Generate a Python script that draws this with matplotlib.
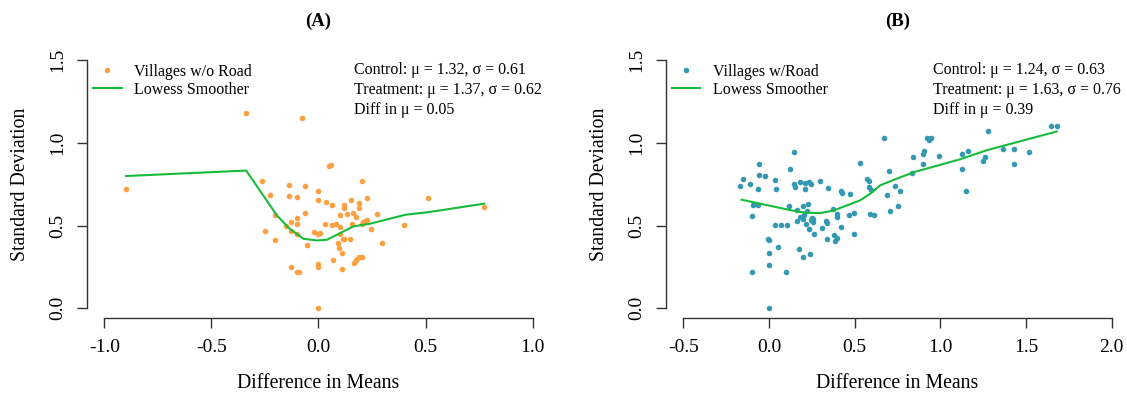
import matplotlib
matplotlib.use("Agg")
from matplotlib import pyplot as plt
from matplotlib.lines import Line2D

plt.rcParams['font.family'] = ['Liberation Serif', 'DejaVu Serif']

# panel A: villages without road
a_x = [-0.341, -0.079, 0.051, 0.059, -0.901, -0.266, -0.138, -0.064, 0.203, 0.000,
       -0.227, -0.138, -0.101, 0.000, 0.036, 0.064, 0.120, 0.150, 0.227, 0.189,
       0.189, 0.514, 0.774, -0.201, -0.064, -0.101, -0.127, -0.101, -0.154, -0.250,
       -0.201, -0.127, -0.101, -0.056, -0.019, 0.000, 0.008, 0.030, 0.064, 0.083,
       0.101, 0.120, 0.134, 0.163, 0.173, 0.101, 0.157, 0.203, 0.210, 0.219,
       0.227, 0.246, 0.273, 0.399, 0.101, 0.114, 0.120, 0.147, 0.089, 0.095,
       0.108, 0.299, 0.067, 0.173, 0.179, 0.191, 0.203, 0.168, 0.000, 0.000,
       -0.127, -0.101, -0.089, 0.112, 0.000]
a_y = [1.179, 1.150, 0.860, 0.864, 0.718, 0.771, 0.747, 0.741, 0.771, 0.711,
       0.684, 0.678, 0.674, 0.652, 0.642, 0.626, 0.626, 0.654, 0.668, 0.634,
       0.605, 0.668, 0.610, 0.561, 0.577, 0.547, 0.521, 0.507, 0.496, 0.470,
       0.412, 0.470, 0.448, 0.384, 0.464, 0.448, 0.456, 0.507, 0.501, 0.511,
       0.561, 0.608, 0.571, 0.577, 0.551, 0.490, 0.507, 0.507, 0.519, 0.527,
       0.531, 0.478, 0.571, 0.503, 0.448, 0.418, 0.418, 0.418, 0.394, 0.367,
       0.335, 0.394, 0.291, 0.291, 0.301, 0.309, 0.311, 0.275, 0.265, 0.248,
       0.248, 0.222, 0.218, 0.236, 0.000]
a_fit_x = [-0.899, -0.338, -0.194, -0.135, -0.070, -0.008, 0.039, 0.101, 0.163, 0.241,
           0.405, 0.514, 0.774]
a_fit_y = [0.799, 0.832, 0.561, 0.481, 0.420, 0.410, 0.414, 0.454, 0.495, 0.511,
           0.565, 0.581, 0.632]

# panel B: villages with road
b_x = [1.644, 1.679, 1.279, 0.671, 0.921, 0.945, 0.933, 0.907, 0.900, 0.843,
       0.900, 0.995, 1.160, 1.129, 1.125, 1.149, 1.263, 1.250, 1.366, 1.432,
       1.520, 1.432, 0.148, 0.531, -0.058, 0.124, 0.698, 0.832, -0.058, -0.023,
       -0.152, 0.035, -0.113, -0.166, -0.066, 0.039, 0.148, 0.153, 0.179, 0.208,
       0.208, 0.235, 0.245, 0.297, 0.344, 0.418, 0.426, 0.474, 0.573, 0.583,
       0.585, 0.595, 0.688, 0.738, 0.764, 0.754, 0.707, 0.587, 0.614, 0.497,
       0.470, 0.400, 0.400, 0.373, 0.332, 0.338, 0.418, 0.311, 0.264, 0.235,
       0.214, 0.251, 0.260, 0.257, 0.245, 0.198, 0.202, 0.183, 0.163, 0.165,
       0.222, 0.227, 0.198, 0.120, -0.090, -0.064, -0.097, 0.033, 0.072, 0.107,
       0.338, 0.381, 0.388, 0.398, 0.497, -0.006, -0.002, 0.054, 0.177, 0.237,
       0.198, -0.002, -0.002, -0.099, 0.101, 0.000]
b_y = [1.100, 1.100, 1.071, 1.029, 1.029, 1.029, 1.017, 0.950, 0.935, 0.912,
       0.874, 0.920, 0.950, 0.930, 0.844, 0.708, 0.912, 0.888, 0.961, 0.965,
       0.947, 0.874, 0.947, 0.880, 0.874, 0.844, 0.829, 0.817, 0.807, 0.797,
       0.781, 0.777, 0.751, 0.737, 0.719, 0.719, 0.753, 0.733, 0.763, 0.759,
       0.723, 0.763, 0.753, 0.767, 0.726, 0.711, 0.694, 0.688, 0.779, 0.767,
       0.733, 0.717, 0.684, 0.741, 0.706, 0.620, 0.589, 0.567, 0.561, 0.577,
       0.561, 0.571, 0.551, 0.597, 0.527, 0.515, 0.489, 0.484, 0.450, 0.481,
       0.509, 0.547, 0.537, 0.521, 0.531, 0.541, 0.565, 0.551, 0.525, 0.596,
       0.587, 0.630, 0.616, 0.620, 0.622, 0.624, 0.555, 0.505, 0.505, 0.501,
       0.416, 0.440, 0.408, 0.424, 0.450, 0.416, 0.410, 0.373, 0.359, 0.329,
       0.311, 0.333, 0.263, 0.222, 0.222, 0.000]
b_fit_x = [-0.160, -0.051, 0.163, 0.222, 0.299, 0.377, 0.532, 0.591, 0.649, 0.736,
           0.847, 1.115, 1.271, 1.679]
b_fit_y = [0.656, 0.632, 0.585, 0.577, 0.575, 0.591, 0.652, 0.692, 0.743, 0.779,
           0.823, 0.900, 0.955, 1.068]

a_stats = ["Control: \u03bc = 1.32, \u03c3 = 0.61",
           "Treatment: \u03bc = 1.37, \u03c3 = 0.62",
           "Diff in \u03bc = 0.05"]
b_stats = ["Control: \u03bc = 1.24, \u03c3 = 0.63",
           "Treatment: \u03bc = 1.63, \u03c3 = 0.76",
           "Diff in \u03bc = 0.39"]

ORANGE = "#FCA042"
TEAL = "#3598B3"
GREEN = "#17BB3A"


def draw_panel(ax, x, y, fx, fy, color, label, stats, title, xlim, xticks):
    ax.plot(x, y, 'o', color=color, ms=4, mec='none')
    ax.plot(fx, fy, '-', color=GREEN, lw=1.5)
    span = xlim[1] - xlim[0]
    ax.set_xlim(xlim[0] - 0.04 * span, xlim[1] + 0.04 * span)
    ax.set_ylim(-0.06, 1.56)
    ax.set_xticks(xticks)
    ax.set_xticklabels(["%.1f" % t for t in xticks])
    ax.set_yticks([0.0, 0.5, 1.0, 1.5])
    ax.set_yticklabels(["0.0", "0.5", "1.0", "1.5"], rotation=90, va='center')
    for s in ['top', 'right']:
        ax.spines[s].set_visible(False)
    ax.spines['bottom'].set_bounds(xlim[0], xlim[1])
    ax.spines['left'].set_bounds(0, 1.5)
    for s in ['bottom', 'left']:
        ax.spines[s].set_color('#333333')
        ax.spines[s].set_linewidth(1.0)
    ax.tick_params(direction='out', length=7, width=1.0, color='#333333',
                   labelsize=14, pad=8)
    ax.set_xlabel("Difference in Means", fontsize=14.2, labelpad=13)
    ax.set_ylabel("Standard Deviation", fontsize=14.2, labelpad=14)
    ax.set_title(title, fontsize=13.5, fontweight='bold', pad=17)
    handles = [Line2D([], [], ls='none', marker='o', ms=4, color=color, mec='none'),
               Line2D([], [], color=GREEN, lw=1.5)]
    ax.legend(handles, [label, "Lowess Smoother"], loc='upper left',
              bbox_to_anchor=(0.005, 0.96), frameon=False, fontsize=11.5,
              handlelength=1.8, handletextpad=0.77, labelspacing=0.12,
              borderaxespad=0.0, borderpad=0.2)
    for i, line in enumerate(stats):
        ax.text(0.5775, 0.924 - i * 0.0735, line, transform=ax.transAxes,
                fontsize=11.5, ha='left', va='center')


fig = plt.figure(figsize=(11.27, 3.95), dpi=100)
ax1 = fig.add_axes([0.0775, 0.1942, 0.4102, 0.6792])
ax2 = fig.add_axes([0.5910, 0.1942, 0.4107, 0.6792])

draw_panel(ax1, a_x, a_y, a_fit_x, a_fit_y, ORANGE, "Villages w/o Road", a_stats,
           "(A)", (-1.0, 1.0), [-1.0, -0.5, 0.0, 0.5, 1.0])
draw_panel(ax2, b_x, b_y, b_fit_x, b_fit_y, TEAL, "Villages w/Road", b_stats,
           "(B)", (-0.5, 2.0), [-0.5, 0.0, 0.5, 1.0, 1.5, 2.0])

fig.savefig("out.png", dpi=100)
